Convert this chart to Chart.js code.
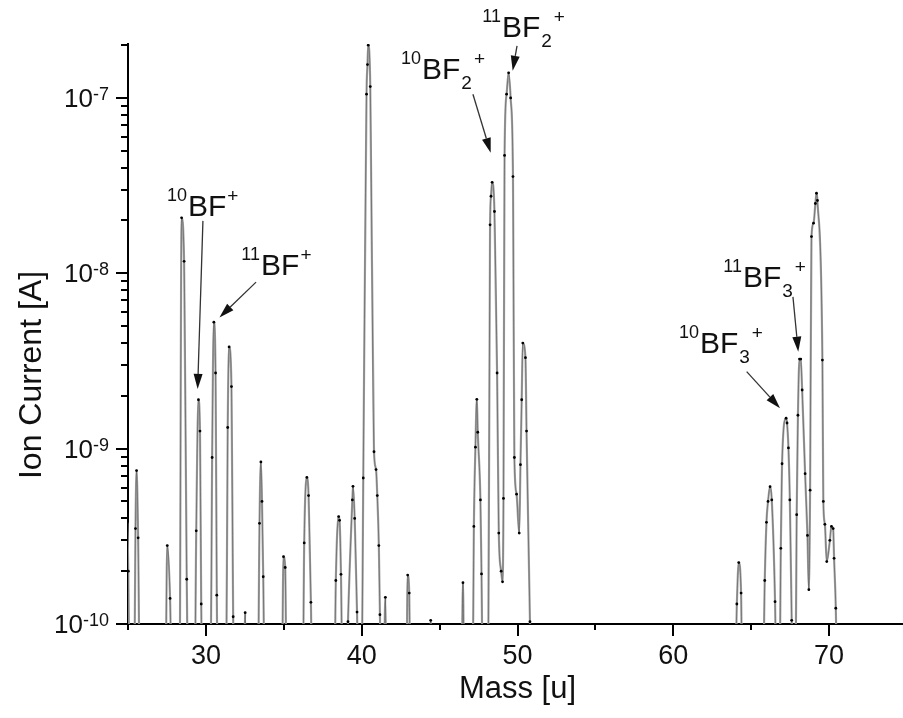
<!DOCTYPE html>
<html>
<head>
<meta charset="utf-8">
<script src="https://cdn.jsdelivr.net/npm/chart.js@4.4.1/dist/chart.umd.min.js"></script>
<style>
  html, body { margin: 0; padding: 0; background: #fff; overflow: hidden; }
  #wrap { width: 912px; height: 718px; }
</style>
</head>
<body>
<div id="wrap"><canvas id="massChart" width="912" height="718"></canvas></div>
<script>
// mass scan (3e-11 = below the axis floor)
const massU = [
  24.95, 25.02, 25.12, 25.38, 25.48, 25.55, 25.65, 25.78,
  27.38, 27.52, 27.7, 27.85,
  28.3, 28.44, 28.6, 28.77, 28.9,
  29.26, 29.38, 29.52, 29.62, 29.7, 29.8,
  30.28, 30.4, 30.51, 30.62, 30.7, 30.8,
  31.28, 31.4, 31.49, 31.64, 31.75, 31.85,
  32.42, 32.52, 32.6,
  33.32, 33.44, 33.53, 33.6, 33.68, 33.8,
  34.86, 34.98, 35.09, 35.2,
  36.2, 36.31, 36.48, 36.59, 36.74, 36.85,
  38.22, 38.34, 38.52, 38.58, 38.67, 38.8,
  38.98, 39.12, 39.4, 39.44, 39.55, 39.7, 39.82,
  39.98, 40.1, 40.31, 40.37, 40.42, 40.55, 40.79, 40.92, 41.0, 41.1, 41.17, 41.3,
  41.42, 41.52, 41.6,
  42.85, 42.95, 43.05, 43.15,
  44.35, 44.43, 44.5,
  46.38, 46.5, 46.6,
  47.1, 47.2, 47.3, 47.39, 47.45, 47.62, 47.69, 47.8,
  48.1, 48.24, 48.3, 48.37, 48.52, 48.69, 48.8, 48.95, 49.04,
  49.1, 49.17, 49.3, 49.43, 49.56, 49.71, 49.8, 49.94, 50.11,
  50.19, 50.27, 50.34, 50.51, 50.58, 50.8, 50.9,
  63.92, 64.08, 64.2, 64.35, 64.45,
  65.72, 65.87, 65.98, 66.08, 66.21, 66.32, 66.53, 66.65,
  66.8, 66.9, 66.98, 67.24, 67.3, 67.39, 67.48, 67.6, 67.7,
  67.82, 67.92, 68.0, 68.1, 68.18, 68.27, 68.46, 68.61, 68.7,
  68.78, 68.87, 69.0, 69.12, 69.19, 69.25, 69.57, 69.63, 69.73, 69.85,
  70.05, 70.15, 70.26, 70.32, 70.43, 70.55,
  75.0
];
const ionCurrentA = [
  3.8e-10, 2.0e-10, 3e-11, 3e-11, 3.5e-10, 7.5e-10, 3.1e-10, 3e-11,
  3e-11, 2.8e-10, 1.4e-10, 3e-11,
  3e-11, 2.07e-8, 1.17e-8, 1.8e-10, 3e-11,
  3e-11, 3.4e-10, 1.9e-9, 1.26e-9, 1.3e-10, 3e-11,
  3e-11, 8.9e-10, 5.26e-9, 2.7e-9, 1.46e-10, 3e-11,
  3e-11, 1.32e-9, 3.8e-9, 2.26e-9, 1.1e-10, 3e-11,
  3e-11, 1.16e-10, 3e-11,
  3e-11, 3.75e-10, 8.4e-10, 5.0e-10, 1.86e-10, 3e-11,
  3e-11, 2.42e-10, 2.1e-10, 3e-11,
  3e-11, 2.9e-10, 6.85e-10, 5.4e-10, 1.33e-10, 3e-11,
  3e-11, 1.77e-10, 4.1e-10, 3.9e-10, 1.92e-10, 3e-11,
  3e-11, 1.03e-10, 5.1e-10, 6.1e-10, 4.0e-10, 1.17e-10, 3e-11,
  3e-11, 6.8e-10, 1.05e-7, 1.55e-7, 2.0e-7, 1.16e-7, 9.6e-10, 7.6e-10, 5.4e-10, 2.8e-10, 1.13e-10, 3e-11,
  5e-11, 1.42e-10, 3e-11,
  3e-11, 1.9e-10, 1.5e-10, 3e-11,
  3e-11, 1.05e-10, 3e-11,
  3e-11, 1.72e-10, 3e-11,
  3e-11, 3.6e-10, 1.02e-9, 1.91e-9, 1.24e-9, 5.1e-10, 1.93e-10, 3e-11,
  3e-11, 1.89e-8, 2.75e-8, 3.3e-8, 2.25e-8, 2.7e-9, 3.3e-10, 2.0e-10, 1.74e-10,
  5.2e-10, 4.7e-8, 1.05e-7, 1.39e-7, 1.0e-7, 3.56e-8, 8.9e-10, 5.5e-10, 3.3e-10,
  8.1e-10, 1.9e-9, 4.0e-9, 3.3e-9, 1.26e-9, 1.03e-10, 3e-11,
  3e-11, 1.3e-10, 2.24e-10, 1.5e-10, 3e-11,
  3e-11, 1.77e-10, 3.8e-10, 5.0e-10, 6.07e-10, 5.1e-10, 1.34e-10, 3e-11,
  3e-11, 2.7e-10, 8.2e-10, 1.49e-9, 1.4e-9, 1.01e-9, 5.1e-10, 1.05e-10, 3e-11,
  3e-11, 4.2e-10, 1.55e-9, 3.24e-9, 3.24e-9, 2.16e-9, 7.2e-10, 3.2e-10, 1.57e-10,
  5.8e-10, 1.62e-8, 1.93e-8, 2.5e-8, 2.86e-8, 2.6e-8, 3.2e-9, 5.0e-10, 3.7e-10, 2.27e-10,
  3.0e-10, 3.6e-10, 3.5e-10, 2.37e-10, 1.23e-10, 3e-11,
  3e-11
];

const xTickValues = [25, 30, 35, 40, 45, 50, 55, 60, 65, 70, 75];
const yDecades = [1e-10, 1e-9, 1e-8, 1e-7];
const yExponents = ['-10', '-9', '-8', '-7'];
const yMinorSteps = [2, 3, 4, 5, 6, 7, 8, 9];

// peak labels: isotope, subscript, where "BF" starts (mass, A), arrow tail and tip
const peakLabels = [
  { iso: '10', sub: '',  at: [28.85, 2.12e-8], tail: [29.81, 1.99e-8], tip: [29.47, 2.19e-9] },
  { iso: '11', sub: '',  at: [33.54, 9.8e-9],  tail: [33.22, 8.9e-9],  tip: [30.87, 5.6e-9] },
  { iso: '10', sub: '2', at: [43.87, 1.28e-7], tail: [47.14, 1.05e-7], tip: [48.28, 4.86e-8] },
  { iso: '11', sub: '2', at: [49.0, 2.23e-7],  tail: [49.97, 1.98e-7], tip: [49.69, 1.43e-7] },
  { iso: '11', sub: '3', at: [64.47, 8.35e-9], tail: [67.68, 7.33e-9], tip: [68.02, 3.57e-9] },
  { iso: '10', sub: '3', at: [61.71, 3.49e-9], tail: [64.71, 2.75e-9], tip: [66.85, 1.70e-9] }
];

const FONT = '"Liberation Sans", Arial, sans-serif';
const points = massU.map((m, i) => ({ x: m, y: ionCurrentA[i] }));

function isDecade(v) {
  const l = Math.log10(v);
  return Math.abs(l - Math.round(l)) < 1e-6;
}

const decor = {
  id: 'decor',
  afterDraw(chart) {
    const { ctx, scales: { x, y }, chartArea } = chart;
    ctx.save();
    // tick marks
    ctx.strokeStyle = '#000';
    ctx.lineWidth = 2;
    ctx.beginPath();
    x.ticks.forEach(t => {
      const px = Math.round(x.getPixelForValue(t.value));
      const len = t.value % 10 === 0 ? 12 : 6;
      ctx.moveTo(px, chartArea.bottom);
      ctx.lineTo(px, chartArea.bottom + len);
    });
    y.ticks.forEach(t => {
      const py = Math.round(y.getPixelForValue(t.value));
      const len = isDecade(t.value) ? 12 : 7;
      ctx.moveTo(chartArea.left, py);
      ctx.lineTo(chartArea.left - len, py);
    });
    ctx.stroke();

    // y tick labels: 10 with a raised exponent
    ctx.fillStyle = '#111';
    ctx.textBaseline = 'alphabetic';
    ctx.textAlign = 'right';
    yDecades.forEach((d, i) => {
      const py = y.getPixelForValue(d);
      const right = chartArea.left - 19;
      ctx.font = '18px ' + FONT;
      const ew = ctx.measureText(yExponents[i]).width;
      ctx.fillText(yExponents[i], right, py + 2);
      ctx.font = '26px ' + FONT;
      ctx.fillText('10', right - ew, py + 9);
    });

    // y title
    ctx.font = '32px ' + FONT;
    ctx.textAlign = 'center';
    ctx.textBaseline = 'middle';
    ctx.translate(32, (chartArea.top + chartArea.bottom) / 2 + 41);
    ctx.rotate(-Math.PI / 2);
    ctx.fillText('Ion Current [A]', 0, 0);
    ctx.setTransform(1, 0, 0, 1, 0, 0);

    // peak labels and arrows
    peakLabels.forEach(p => {
      const bx = x.getPixelForValue(p.at[0]);
      const by = y.getPixelForValue(p.at[1]);
      ctx.textBaseline = 'alphabetic';
      ctx.fillStyle = '#111';
      ctx.font = '30px ' + FONT;
      ctx.textAlign = 'left';
      ctx.fillText('BF', bx, by);
      const w = ctx.measureText('BF').width;
      ctx.font = '18px ' + FONT;
      ctx.textAlign = 'right';
      ctx.fillText(p.iso, bx - 1, by - 15);
      ctx.textAlign = 'left';
      let ex = bx + w + 1;
      if (p.sub) {
        ctx.font = '19px ' + FONT;
        ctx.fillText(p.sub, ex, by + 10);
        ex += ctx.measureText(p.sub).width + 2;
      }
      ctx.font = '19px ' + FONT;
      ctx.fillText('+', ex, by - 14);

      const x0 = x.getPixelForValue(p.tail[0]), y0 = y.getPixelForValue(p.tail[1]);
      const x1 = x.getPixelForValue(p.tip[0]), y1 = y.getPixelForValue(p.tip[1]);
      const a = Math.atan2(y1 - y0, x1 - x0);
      const hl = 15, hw = 4.5;
      ctx.strokeStyle = '#333';
      ctx.lineWidth = 1.3;
      ctx.beginPath();
      ctx.moveTo(x0, y0);
      ctx.lineTo(x1 - hl * Math.cos(a), y1 - hl * Math.sin(a));
      ctx.stroke();
      ctx.fillStyle = '#111';
      ctx.beginPath();
      ctx.moveTo(x1, y1);
      ctx.lineTo(x1 - hl * Math.cos(a) + hw * Math.sin(a), y1 - hl * Math.sin(a) - hw * Math.cos(a));
      ctx.lineTo(x1 - hl * Math.cos(a) - hw * Math.sin(a), y1 - hl * Math.sin(a) + hw * Math.cos(a));
      ctx.closePath();
      ctx.fill();
    });
    ctx.restore();
  }
};

const ctx = document.getElementById('massChart').getContext('2d');
const chart = new Chart(ctx, {
  type: 'line',
  data: {
    datasets: [
      {
        label: 'Ion current',
        data: points,
        borderColor: '#a8a8a8',
        borderWidth: 2.2,
        pointRadius: 0,
        cubicInterpolationMode: 'monotone',
        order: 2
      },
      {
        label: 'Ion current (points)',
        data: points,
        borderColor: '#444',
        borderWidth: 0.5,
        pointRadius: c => (c.raw && c.raw.y >= 1e-10 ? 1.4 : 0),
        pointBackgroundColor: '#000',
        pointBorderWidth: 0,
        cubicInterpolationMode: 'monotone',
        order: 1
      }
    ]
  },
  options: {
    responsive: false,
    animation: false,
    devicePixelRatio: 1,
    layout: { padding: { top: 44, right: 5, left: 0, bottom: 0 } },
    plugins: { legend: { display: false }, tooltip: { enabled: false } },
    scales: {
      x: {
        type: 'linear',
        min: 25,
        max: 75,
        afterBuildTicks: s => { s.ticks = xTickValues.map(v => ({ value: v })); },
        afterFit: s => { s.height = 94; s.paddingLeft = 0; s.paddingRight = 0; },
        grid: { drawOnChartArea: false, drawTicks: false },
        border: { display: true, color: '#000', width: 2 },
        ticks: {
          autoSkip: false,
          maxRotation: 0,
          padding: 16,
          color: '#111',
          font: { family: FONT, size: 27 },
          callback: v => (v % 10 === 0 ? String(v) : '')
        },
        title: {
          display: true,
          text: 'Mass [u]',
          color: '#111',
          font: { family: FONT, size: 31 },
          padding: { top: 0, bottom: 10 }
        }
      },
      y: {
        type: 'logarithmic',
        min: 1e-10,
        max: 2.03e-7,
        afterBuildTicks: s => {
          const t = [];
          yDecades.forEach(d => yMinorSteps.concat([1]).forEach(k => {
            const v = k * d;
            if (v <= 2.03e-7) t.push(v);
          }));
          t.sort((a, b) => a - b);
          s.ticks = t.map(v => ({ value: v }));
        },
        afterFit: s => { s.width = 128; s.paddingTop = 0; s.paddingBottom = 0; },
        grid: { drawOnChartArea: false, drawTicks: false },
        border: { display: true, color: '#000', width: 2 },
        ticks: { display: false }
      }
    }
  },
  plugins: [decor]
});
</script>
</body>
</html>
